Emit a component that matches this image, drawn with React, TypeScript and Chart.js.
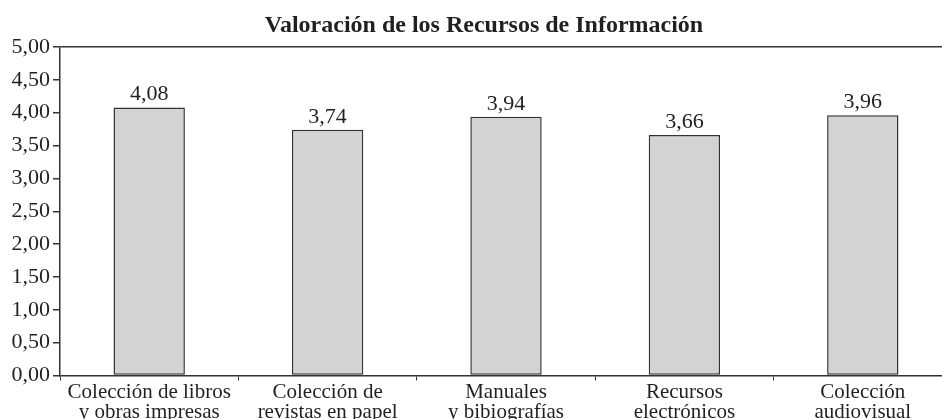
import React, { useEffect, useRef } from "react";
import { Chart, registerables } from "chart.js";

Chart.register(...registerables);

const categories: string[][] = [
  ["Colección de libros", "y obras impresas"],
  ["Colección de", "revistas en papel"],
  ["Manuales", "y bibiografías"],
  ["Recursos", "electrónicos"],
  ["Colección", "audiovisual"],
];
const values: number[] = [4.08, 3.74, 3.94, 3.66, 3.96];
const yMin = 0;
const yMax = 5;
const yStep = 0.5;
const title = "Valoración de los Recursos de Información";

const fmt = (v: number) => Number(v).toFixed(2).replace(".", ",");
const FONT = '"Liberation Serif", "Times New Roman", serif';
const INK = "#231f20";
const AXIS = "#333333";

const CANVAS_W = 968;
const CANVAS_H = 440;
const AREA_LEFT = 60;
const AREA_TOP = 47;
const AREA_BOTTOM = 375.5;

export default function App() {
  const ref = useRef<HTMLCanvasElement | null>(null);
  useEffect(() => {
    if (!ref.current) return;
    const valueLabels = {
      id: "valueLabels",
      afterDatasetsDraw(chart: any) {
        const ctx = chart.ctx;
        const meta = chart.getDatasetMeta(0);
        ctx.save();
        ctx.font = `22px ${FONT}`;
        ctx.fillStyle = INK;
        ctx.textAlign = "center";
        ctx.textBaseline = "alphabetic";
        meta.data.forEach((bar: any, i: number) => {
          ctx.fillText(fmt(values[i]), bar.x, bar.y - 7);
        });
        // chart title, centred on the full canvas width
        ctx.font = `bold 24px ${FONT}`;
        ctx.fillText(title, chart.width / 2, 32);
        ctx.restore();
      },
    };
    const chart = new Chart(ref.current, {
      type: "bar",
      data: {
        labels: categories,
        datasets: [
          {
            data: values,
            backgroundColor: "#d3d3d3",
            borderColor: AXIS,
            borderWidth: 1.5,
            borderSkipped: false,
            categoryPercentage: 1,
            barPercentage: 0.4,
          },
        ],
      },
      options: {
        animation: false,
        responsive: false,
        devicePixelRatio: 1,
        layout: { padding: { left: 0, right: 16, top: AREA_TOP, bottom: 0 } },
        plugins: {
          legend: { display: false },
          tooltip: { enabled: false },
          title: { display: false },
        },
        scales: {
          x: {
            grid: {
              offset: true,
              drawOnChartArea: false,
              color: AXIS,
              tickColor: AXIS,
              tickLength: 5,
            },
            border: { display: true, color: AXIS, width: 1.5 },
            ticks: {
              color: INK,
              font: { family: FONT, size: 21, lineHeight: "20px" as any },
              padding: 2,
              maxRotation: 0,
              autoSkip: false,
            },
            afterFit(scale: any) {
              scale.height = CANVAS_H - AREA_BOTTOM;
            },
          },
          y: {
            min: yMin,
            max: yMax,
            grid: {
              drawOnChartArea: true,
              color: (c: any) => (c.tick && c.tick.value === yMax ? AXIS : "rgba(0,0,0,0)"),
              tickColor: AXIS,
              tickLength: 7,
              lineWidth: 1.5,
            },
            border: { display: true, color: AXIS, width: 1.5 },
            ticks: {
              stepSize: yStep,
              color: INK,
              font: { family: FONT, size: 22 },
              padding: 3,
              callback: (v: any) => fmt(v),
            },
            afterFit(scale: any) {
              scale.width = AREA_LEFT;
            },
          },
        },
      },
      plugins: [valueLabels],
    } as any);
    return () => chart.destroy();
  }, []);
  return (
    <div
      style={{
        position: "fixed",
        left: 0,
        top: 0,
        width: 942,
        height: 419,
        overflow: "hidden",
        background: "#fff",
      }}
    >
      <canvas ref={ref} width={CANVAS_W} height={CANVAS_H} style={{ display: "block" }} />
    </div>
  );
}
